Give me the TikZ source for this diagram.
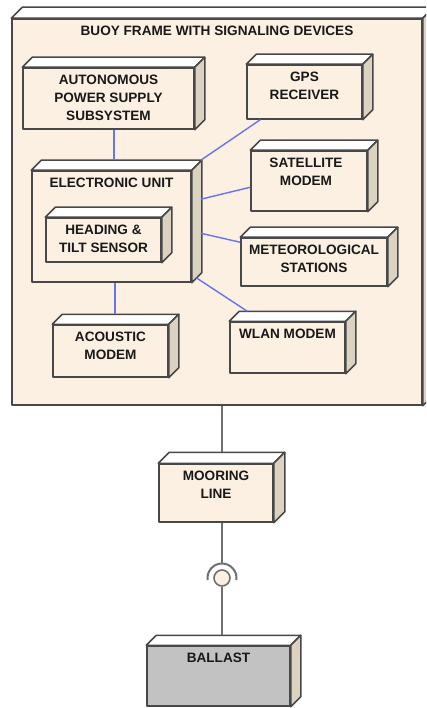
\documentclass[tikz,border=0pt]{standalone}
\usepackage{fontspec}
\setmainfont{Liberation Sans}
\usetikzlibrary{calc}
\definecolor{facec}{HTML}{FCF0E3}
\definecolor{sidec}{HTML}{DCD2C2}
\definecolor{edgec}{HTML}{484848}
\definecolor{wirec}{RGB}{105,115,235}
\definecolor{linkc}{HTML}{707070}
\definecolor{ballastc}{HTML}{C2C2C2}
\tikzset{
  cube/.style={draw=edgec, line width=1.5pt, fill=facec, inner sep=0pt, rectangle, line join=round,
    append after command={\pgfextra{
      \draw[edgec, line width=1.5pt, line join=round, fill=white]
        (\tikzlastnode.north west) -- ++(#1,-#1)
        -- ($(\tikzlastnode.north east)+(#1,-#1)$) -- (\tikzlastnode.north east) -- cycle;
      \draw[edgec, line width=1.5pt, line join=round, fill=sidec]
        (\tikzlastnode.north east) -- ++(#1,-#1)
        -- ($(\tikzlastnode.south east)+(#1,-#1)$) -- (\tikzlastnode.south east) -- cycle;
    }}},
  lbl/.style={anchor=north, yshift=-8pt, align=center, inner sep=0pt,
    font=\fontsize{13.6}{18}\selectfont\bfseries, text=black!90},
  wire/.style={draw=wirec, line width=1.4pt},
  link/.style={draw=linkc, line width=1.6pt},
}
\begin{document}
\begin{tikzpicture}[x=1pt, y=-1pt]
\useasboundingbox (0,0) rectangle (426,708);
\clip (0,0) rectangle (426,708);
\fill[white] (0,0) rectangle (426,708);

% buoy frame
\node[cube=11, minimum width=410pt, minimum height=386pt,
  label={[lbl]north:BUOY FRAME WITH SIGNALING DEVICES}] (frame) at (217,212) {};

% inner devices
\node[cube=10, minimum width=171pt, minimum height=61pt,
  label={[lbl]north:AUTONOMOUS\\POWER SUPPLY\\SUBSYSTEM}] (ps) at (108.5,98.5) {};
\node[cube=10, minimum width=115pt, minimum height=54pt,
  label={[lbl]north:GPS\\RECEIVER}] (gps) at (304.5,92) {};
\node[cube=10, minimum width=159pt, minimum height=111pt,
  label={[lbl]north:ELECTRONIC UNIT}] (eu) at (111.5,226.5) {};
\node[cube=10, minimum width=115pt, minimum height=44pt,
  label={[lbl]north:HEADING \&\\TILT SENSOR}] (hts) at (103.5,240) {};
\node[cube=10, minimum width=116pt, minimum height=60pt,
  label={[lbl,xshift=-3pt]north:SATELLITE\\MODEM}] (sat) at (309,181) {};
\node[cube=10, minimum width=146pt, minimum height=48pt,
  label={[lbl]north:METEOROLOGICAL\\STATIONS}] (met) at (314,262) {};
\node[cube=10, minimum width=115pt, minimum height=52pt,
  label={[lbl]north:ACOUSTIC\\MODEM}] (ac) at (110.5,351) {};
\node[cube=10, minimum width=115pt, minimum height=51pt,
  label={[lbl]north:WLAN MODEM}] (wlan) at (287.5,347.5) {};

% mooring and ballast
\node[cube=11, minimum width=114pt, minimum height=58pt,
  label={[lbl]north:MOORING\\LINE}] (moor) at (216,493) {};
\node[cube=10, fill=ballastc, minimum width=143pt, minimum height=60pt,
  label={[lbl]north:BALLAST}] (bal) at (218.5,676) {};

\node[circle, draw=linkc, line width=1.6pt, fill=facec, minimum size=16pt, inner sep=0pt] (ball) at (222,578) {};
\coordinate (sock) at ([yshift=14.5pt]ball.center);

% blue connectors
\draw[wire] ([xshift=5.5pt]ps.south) -- ([xshift=2.5pt,yshift=10pt]eu.north);
\draw[wire] ([xshift=9pt,yshift=10pt]eu.north east) -- ([xshift=14pt]gps.south west);
\draw[wire] ([xshift=9pt,yshift=-29pt]eu.north east) -- ([yshift=-37pt]sat.north west);
\draw[wire] ([xshift=9pt,yshift=-63pt]eu.north east) -- ([yshift=-5pt]met.north west);
\draw[wire] ([xshift=4.5pt,yshift=5pt]eu.south east) -- ([xshift=18pt,yshift=10pt]wlan.north west);
\draw[wire] ([xshift=3.5pt]eu.south) -- ([xshift=4.5pt,yshift=10pt]ac.north);

% gray connectors
\draw[link] ([xshift=5pt]frame.south) -- ([xshift=6pt,yshift=11pt]moor.north);
\draw[link] ([xshift=6pt]moor.south) -- (sock);
\draw[link, line width=2pt] ([shift={(188:14.5pt)}]ball.center) arc[start angle=188, end angle=-8, radius=14.5pt];
\draw[link] (ball.south) -- ([xshift=3.5pt,yshift=10pt]bal.north);
\end{tikzpicture}
\end{document}
